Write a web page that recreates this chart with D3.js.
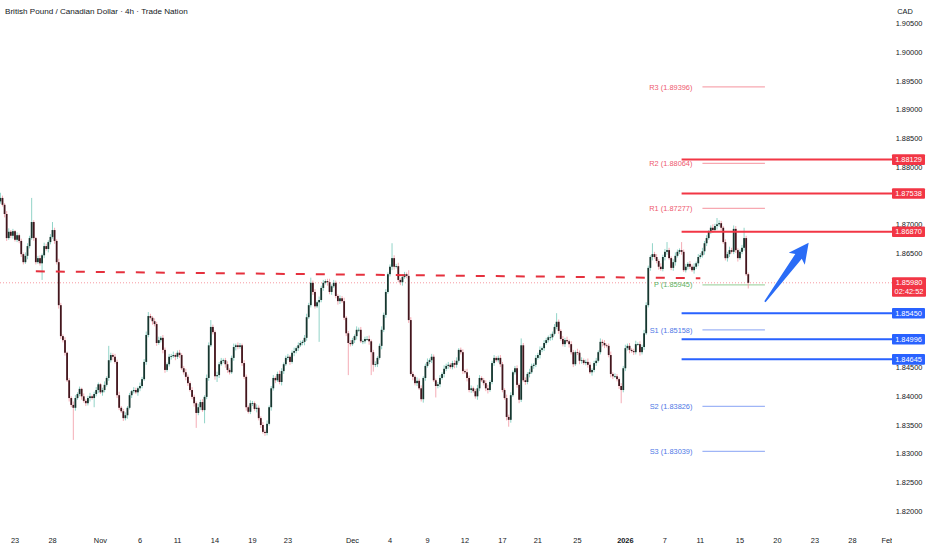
<!DOCTYPE html>
<html>
<head>
<meta charset="utf-8">
<script src="https://cdn.jsdelivr.net/npm/d3@7"></script>
<style>
  html, body { margin: 0; padding: 0; background: #fff; }
  svg { display: block; font-family: "Liberation Sans", Arial, sans-serif; }
</style>
</head>
<body>
<div id="chart"></div>
<script>
// ---- data ----
const title = "British Pound / Canadian Dollar · 4h · Trade Nation";
const firstBar = ["2025-10-21", 20]; // day, hour of the first 4h bar
const firstOpen = 1.8740;

// 4h closes
const closes = [
  1.8746,1.8734,1.8718,1.8676,1.8687,1.8680,1.8688,1.8673,1.8681,1.8671,
  1.8648,1.8634,1.8645,1.8662,1.8676,1.8704,1.8676,1.8634,1.8641,1.8632,
  1.8646,1.8662,1.8657,1.8669,1.8678,1.8690,1.8671,1.8634,1.8559,1.8505,
  1.8498,1.8476,1.8428,1.8397,1.8385,1.8380,1.8397,1.8404,1.8413,1.8400,
  1.8392,1.8388,1.8397,1.8400,1.8397,1.8404,1.8411,1.8421,1.8407,1.8411,
  1.8420,1.8432,1.8463,1.8472,1.8469,1.8460,1.8402,1.8380,1.8374,1.8362,
  1.8367,1.8380,1.8402,1.8409,1.8411,1.8407,1.8414,1.8418,1.8430,1.8460,
  1.8507,1.8540,1.8537,1.8531,1.8526,1.8493,1.8498,1.8502,1.8481,1.8446,
  1.8456,1.8469,1.8470,1.8472,1.8469,1.8476,1.8472,1.8449,1.8442,1.8434,
  1.8423,1.8411,1.8399,1.8388,1.8371,1.8381,1.8390,1.8376,1.8399,1.8432,
  1.8489,1.8521,1.8512,1.8435,1.8437,1.8456,1.8462,1.8463,1.8456,1.8446,
  1.8442,1.8467,1.8486,1.8489,1.8486,1.8489,1.8458,1.8434,1.8381,1.8373,
  1.8388,1.8388,1.8378,1.8380,1.8362,1.8350,1.8338,1.8336,1.8352,1.8381,
  1.8414,1.8432,1.8428,1.8439,1.8425,1.8444,1.8456,1.8467,1.8469,1.8460,
  1.8476,1.8479,1.8484,1.8489,1.8493,1.8495,1.8502,1.8538,1.8559,1.8598,
  1.8582,1.8557,1.8564,1.8568,1.8589,1.8598,1.8601,1.8599,1.8582,1.8592,
  1.8598,1.8575,1.8566,1.8571,1.8566,1.8537,1.8510,1.8493,1.8491,1.8498,
  1.8505,1.8516,1.8516,1.8496,1.8496,1.8500,1.8500,1.8496,1.8477,1.8455,
  1.8456,1.8467,1.8488,1.8516,1.8542,1.8582,1.8613,1.8626,1.8641,1.8626,
  1.8627,1.8603,1.8599,1.8608,1.8613,1.8610,1.8533,1.8439,1.8434,1.8423,
  1.8427,1.8414,1.8395,1.8432,1.8453,1.8460,1.8463,1.8469,1.8428,1.8418,
  1.8421,1.8432,1.8439,1.8448,1.8453,1.8455,1.8451,1.8458,1.8455,1.8462,
  1.8481,1.8477,1.8444,1.8442,1.8432,1.8411,1.8414,1.8409,1.8400,1.8414,
  1.8432,1.8428,1.8423,1.8414,1.8411,1.8425,1.8458,1.8467,1.8463,1.8467,
  1.8456,1.8411,1.8397,1.8364,1.8359,1.8402,1.8442,1.8449,1.8420,1.8394,
  1.8489,1.8428,1.8425,1.8439,1.8442,1.8453,1.8455,1.8467,1.8472,1.8481,
  1.8484,1.8493,1.8498,1.8503,1.8503,1.8509,1.8521,1.8530,1.8514,1.8500,
  1.8491,1.8498,1.8496,1.8491,1.8477,1.8456,1.8477,1.8476,1.8462,1.8463,
  1.8458,1.8460,1.8455,1.8442,1.8446,1.8458,1.8462,1.8477,1.8495,1.8493,
  1.8489,1.8488,1.8472,1.8439,1.8435,1.8435,1.8430,1.8418,1.8411,1.8449,
  1.8484,1.8488,1.8481,1.8479,1.8477,1.8491,1.8491,1.8477,1.8486,1.8510,
  1.8559,1.8624,1.8643,1.8648,1.8643,1.8636,1.8626,1.8622,1.8643,1.8652,
  1.8655,1.8641,1.8624,1.8634,1.8645,1.8652,1.8655,1.8652,1.8620,1.8626,
  1.8631,1.8626,1.8620,1.8626,1.8632,1.8643,1.8646,1.8653,1.8667,1.8676,
  1.8687,1.8694,1.8690,1.8697,1.8700,1.8702,1.8694,1.8669,1.8641,1.8648,
  1.8655,1.8652,1.8692,1.8655,1.8641,1.8652,1.8659,1.8676,1.8613,1.8598
];

// wick lengths beyond the body, in pips (0.0001)
const upperWickPips = [
  9,4,3,5,6,3,4,2,5,3, 4,3,6,5,4,42,3,2,4,5, 3,6,4,3,5,14,4,3,6,4,
  3,5,2,4,3,6,5,3,4,2, 5,3,4,6,3,4,5,3,2,4, 6,3,25,4,3,5,4,6,3,4,
  5,3,4,2,5,4,3,6,4,5, 6,7,4,3,5,4,6,3,5,4, 3,5,4,6,3,4,5,3,4,6,
  4,3,5,4,3,6,4,5,3,6, 5,12,4,3,6,4,5,3,4,5, 3,4,6,3,5,4,3,5,4,3,
  5,4,3,6,4,3,5,4,6,3, 4,5,3,4,6,5,3,4,5,3, 4,6,3,5,4,3,5,6,4,9,
  4,5,3,6,4,5,3,4,6,3, 5,4,3,5,4,6,3,4,5,4, 3,6,4,5,3,4,5,6,3,4,
  5,3,4,6,4,5,3,4,26,5, 4,6,3,5,4,3,10,5,4,3, 6,4,5,3,4,6,3,5,4,3,
  4,5,3,6,4,5,3,4,5,6, 3,4,5,3,6,4,5,3,4,6, 5,3,4,5,6,3,4,5,3,4,
  5,4,3,6,4,5,3,4,5,3, 12,4,5,3,6,4,3,5,4,6, 3,5,4,3,6,4,5,15,4,3,
  5,4,6,3,5,4,3,6,4,5, 3,4,6,5,3,4,5,3,6,4, 5,3,4,6,3,5,4,3,5,4,
  6,4,5,3,4,6,3,5,4,6, 5,4,3,19,4,5,3,6,4,5, 14,4,3,5,6,4,3,14,4,5,
  3,5,4,6,3,5,4,6,4,5, 3,4,6,4,11,5,4,3,5,4, 6,4,6,5,3,4,5,18,4,3
];
const lowerWickPips = [
  4,3,6,5,3,4,5,3,4,4, 5,4,3,6,4,3,5,4,3,4, 29,5,3,6,4,3,5,4,6,5,
  4,5,3,6,4,56,5,3,4,6, 3,5,4,6,3,16,4,5,3,6, 4,3,5,4,6,3,5,4,3,5,
  4,6,3,5,4,3,6,5,4,3, 5,4,3,6,4,5,3,4,6,5, 3,4,5,3,6,4,5,3,4,6,
  5,3,4,6,26,4,5,3,23,4, 5,3,4,6,10,5,3,4,6,5, 4,3,5,6,4,3,5,4,6,3,
  4,5,3,6,4,5,3,5,4,3, 6,4,5,3,4,6,5,3,4,5, 3,6,4,5,3,4,6,5,3,4,
  5,4,3,69,4,5,3,6,4,5, 3,4,6,5,3,4,5,56,4,3, 5,6,4,3,5,4,3,6,40,12,
  4,5,3,6,4,5,3,4,6,5, 3,4,5,6,3,4,5,3,6,4, 5,3,4,6,5,3,4,5,3,20,
  4,5,3,6,4,5,3,4,6,5, 3,4,5,3,6,4,5,3,4,6, 5,3,4,5,6,3,4,5,3,4,
  5,4,3,6,12,5,3,4,5,6, 4,3,5,4,6,3,5,4,3,6, 4,5,3,4,6,5,3,4,5,3,
  4,5,3,6,4,5,3,4,6,5, 3,4,5,3,6,4,5,3,4,6, 5,3,4,6,5,3,4,5,23,4,
  5,4,6,3,5,4,3,6,4,5, 3,4,5,6,3,4,5,3,4,6, 5,3,4,5,6,3,4,5,3,4,
  5,4,3,6,4,5,3,4,6,5, 3,4,5,3,6,4,5,3,4,6, 5,3,4,5,6,3,4,5,3,10
];

const holidays = ["2025-12-26", "2026-01-01"];
const dayTicks = [
  ["2025-10-23", "23"], ["2025-10-28", "28"], ["2025-11-01", "Nov"], ["2025-11-06", "6"],
  ["2025-11-11", "11"], ["2025-11-14", "14"], ["2025-11-19", "19"], ["2025-11-23", "23"],
  ["2025-12-01", "Dec"], ["2025-12-04", "4"], ["2025-12-09", "9"], ["2025-12-12", "12"],
  ["2025-12-17", "17"], ["2025-12-21", "21"], ["2025-12-25", "25"], ["2026-01-01", "2026"],
  ["2026-01-07", "7"], ["2026-01-11", "11"], ["2026-01-15", "15"], ["2026-01-20", "20"],
  ["2026-01-23", "23"], ["2026-01-28", "28"], ["2026-02-01", "Feb"]
];
const priceTicks = [1.820, 1.825, 1.830, 1.835, 1.840, 1.845, 1.850, 1.855, 1.860,
  1.865, 1.870, 1.875, 1.880, 1.885, 1.890, 1.895, 1.900, 1.905];

const resistanceLevels = [1.88129, 1.87538, 1.86870];
const supportLevels = [1.85450, 1.84996, 1.84645];
const levelStart = ["2026-01-08", 8];

const pivotNames = ["R3", "R2", "R1", "P", "S1", "S2", "S3"];
const pivotValues = [1.89396, 1.88064, 1.87277, 1.85945, 1.85158, 1.83826, 1.83039];
const pivotSpan = [["2026-01-12", 0], ["2026-01-19", 0]];

const trendLine = [["2025-10-24", 16, 1.8618], ["2026-01-09", 20, 1.8606]];
const arrowPoints = [["2026-01-19", 0, 1.8565], ["2026-01-22", 12, 1.8668]];

const lastPrice = 1.85980;
const countdown = "02:42:52";

// ---- layout ----
const width = 932, height = 550;
const plotRight = 882, axisLeft = 892;

// trading calendar: weekdays without holidays, 6 bars a day
const dayKey = (d) => d3.utcFormat("%Y-%m-%d")(d);
const tradingDays = d3.utcDays(new Date("2025-10-15T00:00Z"), new Date("2026-02-20T00:00Z"))
  .filter((d) => d.getUTCDay() > 0 && d.getUTCDay() < 6 && !holidays.includes(dayKey(d)));
const originIndex = tradingDays.findIndex((d) => dayKey(d) === "2025-10-23");

function slotOf(day, hour = 0) {
  const t = new Date(day + "T00:00Z");
  const i = tradingDays.findIndex((d) => d >= t);
  const base = (i - originIndex) * 6;
  if (dayKey(tradingDays[i]) !== day) return base - 1; // weekend / holiday: sunday bar
  return base + hour / 4;
}

const x = d3.scaleLinear().domain([-7.2, 416.2]).range([0, plotRight]);
const y = d3.scaleLinear().domain([1.82, 1.90]).range([511, 52.3]);

const firstSlot = slotOf(firstBar[0], firstBar[1]);
const bars = closes.map((c, i) => {
  const o = i ? closes[i - 1] : firstOpen;
  return {
    slot: firstSlot + i,
    o, c,
    h: Math.max(o, c) + upperWickPips[i] / 1e4,
    l: Math.min(o, c) - lowerWickPips[i] / 1e4,
  };
});

const svg = d3.select("#chart").append("svg")
  .attr("width", width).attr("height", height)
  .attr("viewBox", [0, 0, width, height]);

svg.append("rect").attr("width", width).attr("height", height).attr("fill", "#fff");

svg.append("defs").append("clipPath").attr("id", "plotclip")
  .append("rect").attr("x", 0).attr("y", 0).attr("width", axisLeft).attr("height", height);

const plot = svg.append("g").attr("clip-path", "url(#plotclip)");

// current price dotted line
plot.append("line")
  .attr("x1", 0).attr("x2", axisLeft)
  .attr("y1", y(lastPrice)).attr("y2", y(lastPrice))
  .attr("stroke", "#f23645").attr("stroke-opacity", 0.5)
  .attr("stroke-dasharray", "1,2").attr("stroke-width", 1);

// pivots
const pivotColor = (n) => n[0] === "R" ? ["#f7a8b1", "#ee5a6e"]
  : n[0] === "S" ? ["#9fb5f6", "#4e78e6"] : ["#a9d7aa", "#5cb260"];
const px0 = x(slotOf(...pivotSpan[0])), px1 = x(slotOf(...pivotSpan[1]));
const pivots = plot.append("g").selectAll("g")
  .data(pivotNames.map((n, i) => ({ n, v: pivotValues[i] })))
  .join("g");
pivots.append("line")
  .attr("x1", px0).attr("x2", px1)
  .attr("y1", (d) => y(d.v)).attr("y2", (d) => y(d.v))
  .attr("stroke", (d) => pivotColor(d.n)[0]).attr("stroke-width", 1.2);
pivots.append("text")
  .attr("x", px0 - 10).attr("y", (d) => y(d.v)).attr("dy", "0.35em")
  .attr("text-anchor", "end").attr("font-size", 7.4)
  .attr("fill", (d) => pivotColor(d.n)[1])
  .text((d) => `${d.n} (${d.v.toFixed(5)})`);

// candles
const candle = plot.append("g").selectAll("g").data(bars).join("g");
candle.append("line")
  .attr("x1", (d) => x(d.slot)).attr("x2", (d) => x(d.slot))
  .attr("y1", (d) => y(d.h)).attr("y2", (d) => y(d.l))
  .attr("stroke", (d) => d.c >= d.o ? "#86cfc2" : "#f3a3ad")
  .attr("stroke-width", 0.9);
candle.append("rect")
  .attr("x", (d) => x(d.slot) - 0.9).attr("width", 1.8)
  .attr("y", (d) => y(Math.max(d.o, d.c)))
  .attr("height", (d) => Math.max(0.8, y(Math.min(d.o, d.c)) - y(Math.max(d.o, d.c))))
  .attr("fill", (d) => d.c >= d.o ? "#17362f" : "#42161d");

// dashed trend line
plot.append("line")
  .attr("x1", x(slotOf(trendLine[0][0], trendLine[0][1]))).attr("y1", y(trendLine[0][2]))
  .attr("x2", x(slotOf(trendLine[1][0], trendLine[1][1]))).attr("y2", y(trendLine[1][2]))
  .attr("stroke", "#e5303d").attr("stroke-width", 2).attr("stroke-dasharray", "9,11");

// horizontal levels
const lx = x(slotOf(...levelStart));
const levels = resistanceLevels.map((v) => ({ v, color: "#f23645" }))
  .concat(supportLevels.map((v) => ({ v, color: "#2962ff" })));
plot.append("g").selectAll("line").data(levels).join("line")
  .attr("x1", lx).attr("x2", axisLeft)
  .attr("y1", (d) => y(d.v)).attr("y2", (d) => y(d.v))
  .attr("stroke", (d) => d.color).attr("stroke-width", 2);

// arrow
{
  const a = [x(slotOf(arrowPoints[0][0], arrowPoints[0][1])), y(arrowPoints[0][2])];
  const b = [x(slotOf(arrowPoints[1][0], arrowPoints[1][1])), y(arrowPoints[1][2])];
  const L = Math.hypot(b[0] - a[0], b[1] - a[1]);
  const ux = (b[0] - a[0]) / L, uy = (b[1] - a[1]) / L;
  const pt = (s, n) => [a[0] + ux * s - uy * n, a[1] + uy * s + ux * n];
  const shape = [pt(0, -0.8), pt(L - 17, -4), pt(L - 20, -10), pt(L, 0),
    pt(L - 20, 10), pt(L - 17, 4), pt(0, 0.8)];
  plot.append("path").attr("d", "M" + shape.map((p) => p.join(",")).join("L") + "Z")
    .attr("fill", "#2a6cf6");
}

// title
svg.append("text").attr("x", 5).attr("y", 14)
  .attr("font-size", 8.1).attr("fill", "#131722")
  .text(title);

// x axis labels
const xl = svg.append("g").attr("clip-path", "url(#plotclip)");
xl.selectAll("text").data(dayTicks).join("text")
  .attr("x", (d) => x(slotOf(d[0])))
  .attr("y", 543)
  .attr("text-anchor", "middle").attr("font-size", 7.4)
  .attr("font-weight", (d) => d[1] === "2026" ? "bold" : null)
  .attr("fill", "#131722")
  .text((d) => d[1]);

// y axis labels (those fully covered by a price box are not drawn)
const boxValues = resistanceLevels.concat(supportLevels, [lastPrice]);
const visibleTicks = priceTicks.filter((t) =>
  d3.min(boxValues, (v) => Math.abs(y(v) - y(t))) > 6);
const ax = svg.append("g");
ax.selectAll("text").data(visibleTicks).join("text")
  .attr("x", 909).attr("y", (d) => y(d)).attr("dy", "0.35em")
  .attr("text-anchor", "middle").attr("font-size", 7.4).attr("fill", "#131722")
  .text((d) => d.toFixed(5));

ax.append("rect").attr("x", plotRight).attr("y", 0).attr("width", width - plotRight).attr("height", 21)
  .attr("fill", "#fff");
ax.append("text").attr("x", 905).attr("y", 14).attr("text-anchor", "middle")
  .attr("font-size", 7.4).attr("fill", "#131722").text("CAD");

// level price boxes
const box = ax.append("g").selectAll("g").data(levels).join("g");
box.append("rect")
  .attr("x", axisLeft).attr("width", 33).attr("rx", 1)
  .attr("y", (d) => y(d.v) - 5.3).attr("height", 10.6)
  .attr("fill", (d) => d.color);
box.append("text")
  .attr("x", axisLeft + 16.5).attr("y", (d) => y(d.v)).attr("dy", "0.35em")
  .attr("text-anchor", "middle").attr("font-size", 7.4).attr("fill", "#fff")
  .text((d) => d.v.toFixed(5));

// last price box
const yl = y(lastPrice);
ax.append("rect").attr("x", axisLeft).attr("y", yl - 5.5).attr("width", 34).attr("height", 19.5)
  .attr("rx", 1).attr("fill", "#f23645");
ax.append("text").attr("x", axisLeft + 17).attr("y", yl).attr("dy", "0.35em")
  .attr("text-anchor", "middle").attr("font-size", 7.4).attr("fill", "#fff")
  .text(lastPrice.toFixed(5));
ax.append("text").attr("x", axisLeft + 17).attr("y", yl + 9).attr("dy", "0.35em")
  .attr("text-anchor", "middle").attr("font-size", 7.4).attr("fill", "#fff")
  .text(countdown);
</script>
</body>
</html>
